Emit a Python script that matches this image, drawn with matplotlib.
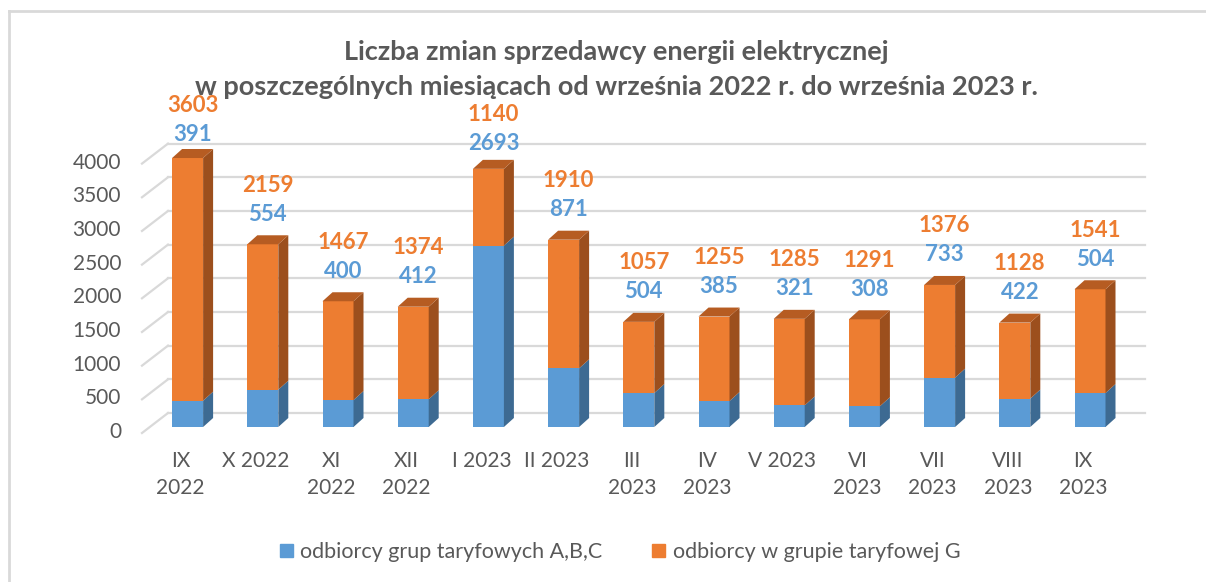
import numpy as np
import matplotlib
matplotlib.use('Agg')
import matplotlib.pyplot as plt
from matplotlib.patches import Polygon, Patch
import matplotlib.transforms as mtransforms

# data
months = ['IX\n2022', 'X 2022', 'XI\n2022', 'XII\n2022', 'I 2023', 'II 2023',
          'III\n2023', 'IV\n2023', 'V 2023', 'VI\n2023', 'VII\n2023', 'VIII\n2023', 'IX\n2023']
abc = [391, 554, 400, 412, 2693, 871, 504, 385, 321, 308, 733, 422, 504]
g = [3603, 2159, 1467, 1374, 1140, 1910, 1057, 1255, 1285, 1291, 1376, 1128, 1541]
yticks = [0, 500, 1000, 1500, 2000, 2500, 3000, 3500, 4000]
series = ['odbiorcy grup taryfowych A,B,C', 'odbiorcy w grupie taryfowej G']
title1 = 'Liczba zmian sprzedawcy energii elektrycznej'
title2 = 'w poszczególnych miesiącach od września 2022 r. do września 2023 r.'

BLUE = '#5B9BD5'
BLUE_SIDE = '#3D6A92'
ORANGE = '#ED7D31'
ORANGE_SIDE = '#9C4F1D'
ORANGE_TOP = '#B65C22'
GRAY = '#595959'
GRID = '#D9D9D9'

plt.rcParams['font.family'] = ['Lato', 'DejaVu Sans']

W, H = 1206, 582
fig = plt.figure(figsize=(W / 100, H / 100), dpi=100)
ax = fig.add_axes([150 / W, 155 / H, 977.6 / W, 269.4 / H])
ax.set_xlim(-0.5, 12.5)
ax.set_ylim(0, 4000)
ax.axis('off')

# pixel -> data steps
px_x = 13 / 977.6
px_y = 4000 / 269.4


def shifted(dx, dy):
    return mtransforms.offset_copy(ax.transData, fig=fig, x=dx, y=dy, units='dots')


# chart border (left + top)
fig.add_artist(plt.Line2D([9 / W, 9 / W], [0, 1 - 11 / H], color='#D9D9D9', lw=2))
fig.add_artist(plt.Line2D([9 / W, 1], [1 - 11 / H, 1 - 11 / H], color='#D9D9D9', lw=2))

# 3d-ish gridlines on the back wall
for v in yticks:
    ax.plot([-0.5 + 18 * px_x, 12.5 + 17.4 * px_x], [v + 14 * px_y] * 2,
            color=GRID, lw=1.6, clip_on=False, zorder=1)
    ax.plot([-0.5 - 8 * px_x, -0.5 + 18 * px_x], [v - 6 * px_y, v + 14 * px_y],
            color=GRID, lw=1.6, clip_on=False, zorder=1)
    ax.text(-0.5, v, str(v), transform=shifted(-29, -5), ha='right', va='center',
            fontsize=15, color=GRAY)

x = np.arange(len(months))
bw = 31 / 75.2
abc_a = np.array(abc)
g_a = np.array(g)
total = abc_a + g_a

ax.bar(x, abc_a, bw, color=BLUE, zorder=3, clip_on=False)
ax.bar(x, g_a, bw, bottom=abc_a, color=ORANGE, zorder=3, clip_on=False)

dx = 10 * px_x
dy = 9 * px_y
for i in range(len(months)):
    xr = x[i] + bw / 2
    xl = x[i] - bw / 2
    for y0, y1, c in [(0, abc_a[i], BLUE_SIDE), (abc_a[i], total[i], ORANGE_SIDE)]:
        ax.add_patch(Polygon([(xr, y0), (xr + dx, y0 + dy), (xr + dx, y1 + dy), (xr, y1)],
                             closed=True, fc=c, ec='none', zorder=3, clip_on=False))
    t = total[i]
    ax.add_patch(Polygon([(xl, t), (xr, t), (xr + dx, t + dy), (xl + dx, t + dy)],
                         closed=True, fc=ORANGE_TOP, ec='none', zorder=3, clip_on=False))

    # data labels (labels sit a bit closer on the tallest bars)
    h_px = t / px_y
    off = 30 - max(0, h_px - 240) * 0.24
    ax.text(x[i], t, str(abc[i]), transform=shifted(5, off), ha='center', va='center',
            fontsize=16, fontweight='bold', color=BLUE)
    ax.text(x[i], t, str(g[i]), transform=shifted(5, off + 29), ha='center', va='center',
            fontsize=16, fontweight='bold', color=ORANGE)

    # category labels
    ax.text(x[i], 0, months[i], transform=shifted(-7, -24), ha='center', va='top',
            fontsize=15, color=GRAY, linespacing=1.45)

# title
fig.text(616 / W, 1 - 52 / H, title1, ha='center', va='center', fontsize=19.5,
         fontweight='bold', color=GRAY)
fig.text(616 / W, 1 - 87 / H, title2, ha='center', va='center', fontsize=19.5,
         fontweight='bold', color=GRAY)

# legend
handles = [Patch(color=BLUE), Patch(color=ORANGE)]
fig.legend(handles, series, loc='center', bbox_to_anchor=(620 / W, 30 / H), ncol=2,
           frameon=False, fontsize=15.5, labelcolor=GRAY, handlelength=0.6,
           handleheight=0.6, handletextpad=0.35, columnspacing=2.3)

fig.savefig('out.png', dpi=100)
